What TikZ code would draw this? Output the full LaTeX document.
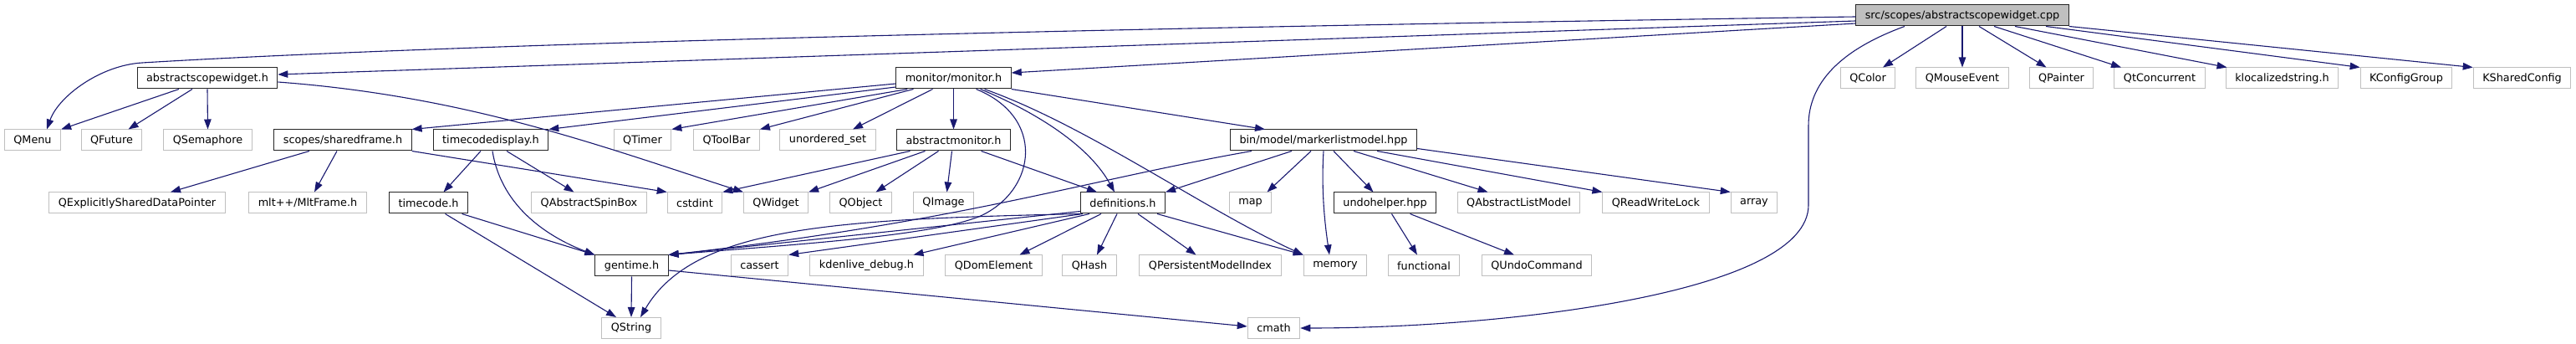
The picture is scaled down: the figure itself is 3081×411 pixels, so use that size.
\documentclass[tikz,border=0pt]{standalone}
\usepackage{fontspec}
\setmainfont{DejaVu Sans}
\usepackage{xcolor}
\usepackage{tikz}
\usetikzlibrary{arrows.meta}
\definecolor{edge}{HTML}{191970}
\definecolor{frame}{HTML}{BFBFBF}
\definecolor{curfill}{HTML}{BFBFBF}

\begin{document}
\begin{tikzpicture}[
    x=1pt,y=-1pt,
    font=\fontsize{12.8}{14}\selectfont,
    box/.style={draw,line width=1pt,minimum height=25pt,inner xsep=11pt,inner ysep=0pt},
    hdr/.style={box,draw=black!85},
    sys/.style={box,draw=frame},
    cur/.style={box,draw=black!85,fill=curfill},
    dep/.style={draw=edge,line width=1.1pt,-{Triangle[length=12pt,width=8.5pt]}}
  ]
    \path[use as bounding box] (0,0) rectangle (3081,411);
    \node[cur] (cpp) at (2347,18.5) {src/scopes/abstractscopewidget.cpp};
    \node[hdr] (asw) at (248,93.5) {abstractscopewidget.h};
    \node[hdr] (mon) at (1140.5,93.5) {monitor/monitor.h};
    \node[sys] (qcolor) at (2234,93.5) {QColor};
    \node[sys] (qmouse) at (2347,93.5) {QMouseEvent};
    \node[sys] (qpainter) at (2465.5,93.5) {QPainter};
    \node[sys] (qtconc) at (2583,93.5) {QtConcurrent};
    \node[sys] (kloc) at (2729.5,93.5) {klocalizedstring.h};
    \node[sys] (kcfggrp) at (2878,93.5) {KConfigGroup};
    \node[sys] (kshcfg) at (3016.5,93.5) {KSharedConfig};
    \node[sys] (qmenu) at (39,167.5) {QMenu};
    \node[sys] (qfuture) at (133.5,167.5) {QFuture};
    \node[sys] (qsema) at (248.5,167.5) {QSemaphore};
    \node[hdr] (shfr) at (410,167.5) {scopes/sharedframe.h};
    \node[hdr] (tcd) at (587,167.5) {timecodedisplay.h};
    \node[sys] (qtimer) at (768.5,167.5) {QTimer};
    \node[sys] (qtoolbar) at (869,167.5) {QToolBar};
    \node[sys] (uset) at (990,167.5) {unordered\_set};
    \node[hdr] (amon) at (1140.5,167.5) {abstractmonitor.h};
    \node[hdr] (mlm) at (1583,167.5) {bin/model/markerlistmodel.hpp};
    \node[sys] (qesdp) at (164,242.5) {QExplicitlySharedDataPointer};
    \node[sys] (mltframe) at (368,242.5) {mlt++/MltFrame.h};
    \node[hdr] (tc) at (512.5,242.5) {timecode.h};
    \node[sys] (qspin) at (704.5,242.5) {QAbstractSpinBox};
    \node[sys] (cstdint) at (831,242.5) {cstdint};
    \node[sys] (qwidget) at (928,242.5) {QWidget};
    \node[sys] (qobject) at (1029.5,242.5) {QObject};
    \node[sys] (qimage) at (1128.5,242.5) {QImage};
    \node[hdr] (defs) at (1343,242.5) {definitions.h};
    \node[sys] (map) at (1495.5,242.5) {map};
    \node[hdr] (undo) at (1656.5,242.5) {undohelper.hpp};
    \node[sys] (qalm) at (1816.5,242.5) {QAbstractListModel};
    \node[sys] (qrwl) at (1980.5,242.5) {QReadWriteLock};
    \node[sys] (array) at (2098,242.5) {array};
    \node[hdr] (gentime) at (755.5,317.5) {gentime.h};
    \node[sys] (cassert) at (908.5,317.5) {cassert};
    \node[sys] (kdbg) at (1036.5,317.5) {kdenlive\_debug.h};
    \node[sys] (qdom) at (1188.5,317.5) {QDomElement};
    \node[sys] (qhash) at (1303,317.5) {QHash};
    \node[sys] (qpmi) at (1447.5,317.5) {QPersistentModelIndex};
    \node[sys] (memory) at (1597,317.5) {memory};
    \node[sys] (functional) at (1703,317.5) {functional};
    \node[sys] (qundo) at (1838,317.5) {QUndoCommand};
    \node[sys] (qstring) at (755,392) {QString};
    \node[sys] (cmath) at (1523.5,392) {cmath};
    \draw[dep] ([yshift=-1.5pt]cpp.west) .. controls (1200,35) and (500,55) .. (170,75) .. controls (120,78) and (70,115) .. ([xshift=17pt]qmenu.north);
    \draw[dep] ([yshift=-6.5pt]cpp.west) -- ([yshift=4.5pt]asw.east);
    \draw[dep] ([yshift=-9.5pt]cpp.west) -- ([yshift=6.5pt]mon.east);
    \draw[dep] ([xshift=-69pt]cpp.south) .. controls (2200,60) and (2163,100) .. (2163,150) -- (2163,245) .. controls (2163,350) and (1800,392) .. (cmath.east);
    \draw[dep] ([xshift=-19pt]cpp.south) -- ([xshift=18pt]qcolor.north);
    \draw[dep] (cpp.south) -- (qmouse.north);
    \draw[dep] ([xshift=20pt]cpp.south) -- ([xshift=-18pt]qpainter.north);
    \draw[dep] ([xshift=38pt]cpp.south) -- ([xshift=-46pt]qtconc.north);
    \draw[dep] ([xshift=63pt]cpp.south) -- ([xshift=-66pt]kloc.north);
    \draw[dep] ([xshift=100pt]cpp.south) -- (kcfggrp.north west);
    \draw[dep] (cpp.south east) -- (kshcfg.north west);
    \draw[dep] ([xshift=-34pt]asw.south) -- (qmenu.north east);
    \draw[dep] ([xshift=-18pt]asw.south) -- ([xshift=20pt]qfuture.north);
    \draw[dep] (asw.south) -- (qsema.north);
    \draw[dep] ([yshift=-4.5pt]asw.east) .. controls (560,115) and (720,175) .. (qwidget.north west);
    \draw[dep] ([yshift=-6.5pt]mon.west) -- (shfr.north east);
    \draw[dep] ([yshift=-10.5pt]mon.west) -- (tcd.north east);
    \draw[dep] ([xshift=14pt]mon.south west) -- (qtimer.north east);
    \draw[dep] ([xshift=-48pt]mon.south) -- (qtoolbar.north east);
    \draw[dep] ([xshift=-25pt]mon.south) -- ([xshift=30pt]uset.north);
    \draw[dep] (mon.south) -- (amon.north);
    \draw[dep] ([xshift=27pt]mon.south) .. controls (1250,140) and (1240,225) .. (1175,257) .. controls (1120,282) and (950,292) .. (gentime.north east);
    \draw[dep] ([xshift=32pt]mon.south) .. controls (1230,130) and (1300,170) .. ([xshift=-10pt]defs.north);
    \draw[dep] ([xshift=37pt]mon.south) .. controls (1300,150) and (1440,250) .. (memory.north west);
    \draw[dep] (mon.south east) -- ([xshift=-70pt]mlm.north);
    \draw[dep] ([xshift=-52pt]amon.south) -- (cstdint.north east);
    \draw[dep] ([xshift=-34pt]amon.south) -- (qwidget.north east);
    \draw[dep] ([xshift=-18pt]amon.south) -- ([xshift=18pt]qobject.north);
    \draw[dep] ([xshift=-2pt]amon.south) -- ([xshift=4pt]qimage.north);
    \draw[dep] ([xshift=33pt]amon.south) -- ([xshift=-31pt]defs.north);
    \draw[dep] ([xshift=-40pt]shfr.south) -- ([xshift=40pt]qesdp.north);
    \draw[dep] ([xshift=-7pt]shfr.south) -- ([xshift=8pt]mltframe.north);
    \draw[dep] (shfr.south east) -- (cstdint.north west);
    \draw[dep] ([xshift=-12pt]tcd.south) -- ([xshift=18pt]tc.north);
    \draw[dep] ([xshift=19pt]tcd.south) -- ([xshift=-18pt]qspin.north);
    \draw[dep] ([xshift=2pt]tcd.south) .. controls (600,250) and (660,285) .. (gentime.north west);
    \draw[dep] ([xshift=40pt]tc.south) -- (gentime.north west);
    \draw[dep] ([xshift=20pt]tc.south) -- ([xshift=-18pt]qstring.north);
    \draw[dep] (gentime.south) -- (qstring.north);
    \draw[dep] ([yshift=-5.5pt]gentime.east) -- ([yshift=2pt]cmath.west);
    \draw[dep] ([xshift=-86pt]mlm.south) .. controls (1300,215) and (1150,265) .. (gentime.north east);
    \draw[dep] ([xshift=-38pt]mlm.south) -- (defs.north east);
    \draw[dep] ([xshift=-15pt]mlm.south) -- ([xshift=20pt]map.north);
    \draw[dep] (mlm.south) .. controls (1580,230) and (1585,270) .. ([xshift=-7pt]memory.north);
    \draw[dep] ([xshift=12pt]mlm.south) -- ([xshift=-14pt]undo.north);
    \draw[dep] ([xshift=36pt]mlm.south) -- ([xshift=-37pt]qalm.north);
    \draw[dep] ([xshift=64pt]mlm.south) -- (qrwl.north west);
    \draw[dep] ([yshift=-10pt]mlm.east) -- (array.north west);
    \draw[dep] ([yshift=-10pt]defs.west) -- (gentime.north east);
    \draw[dep] (defs.south west) .. controls (1000,262) and (830,270) .. ([xshift=11pt]qstring.north);
    \draw[dep] ([xshift=-48pt]defs.south) -- (cassert.north east);
    \draw[dep] ([xshift=-40pt]defs.south) -- ([xshift=56pt]kdbg.north);
    \draw[dep] ([xshift=-26pt]defs.south) -- ([xshift=31pt]qdom.north);
    \draw[dep] ([xshift=-7pt]defs.south) -- ([xshift=9pt]qhash.north);
    \draw[dep] ([xshift=18pt]defs.south) -- ([xshift=-17pt]qpmi.north);
    \draw[dep] ([xshift=41pt]defs.south) -- (memory.north west);
    \draw[dep] ([xshift=8pt]undo.south) -- ([xshift=-8pt]functional.north);
    \draw[dep] ([xshift=30pt]undo.south) -- ([xshift=-27pt]qundo.north);
  \end{tikzpicture}
\end{document}
